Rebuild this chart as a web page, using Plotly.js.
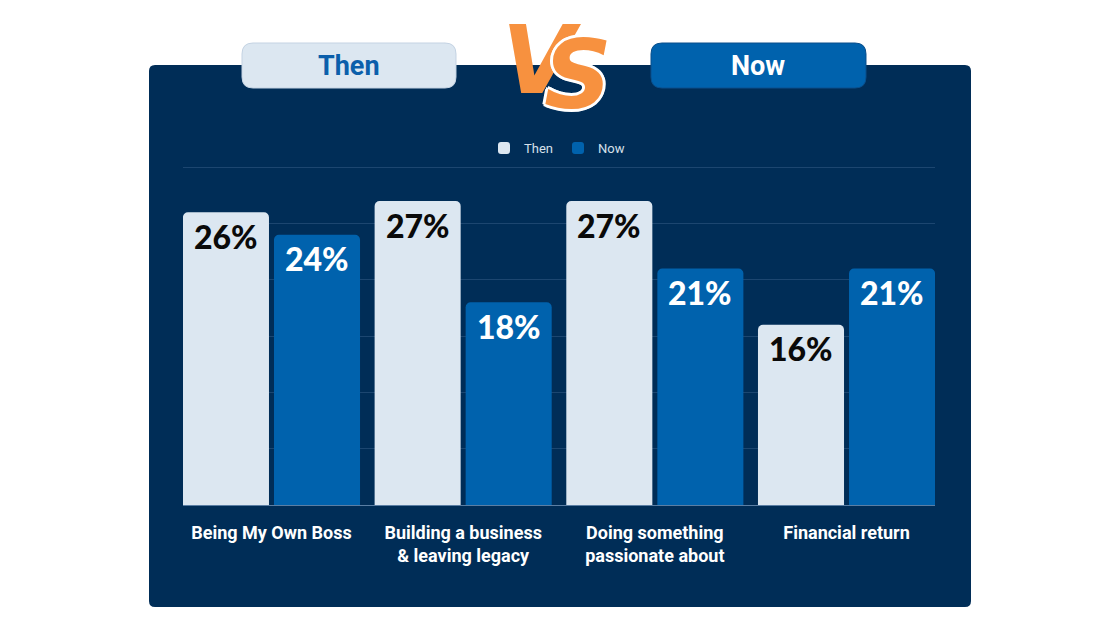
<!DOCTYPE html>
<html>
<head>
<meta charset="utf-8">
<script src="https://cdn.plot.ly/plotly-3.0.1.min.js"></script>
<style>html,body{margin:0;padding:0;background:#fff;}#chart{width:1120px;height:630px;}</style>
</head>
<body>
<div id="chart"></div>
<script>
// ---- data ----
const categories = ["Being My Own Boss", "Building a business<br>& leaving legacy", "Doing something<br>passionate about", "Financial return"];
const thenValues = [26, 27, 27, 16];
const nowValues = [24, 18, 21, 21];
const seriesNames = ["Then", "Now"];
const headerLabels = ["Then", "VS", "Now"];

// ---- styles ----
const NAVY = "#002D57";
const NOW_BLUE = "#0062AD";
const THEN_LIGHT = "#DCE7F1";
const ORANGE = "#F7913F";

const W = 1120, H = 630;
const M = {l: 183, r: 185, t: 156, b: 125};
const PW = W - M.l - M.r, PH = H - M.t - M.b;
const px = x => (x - M.l) / PW;
const py = y => (H - M.b - y) / PH;

function roundRect(x0, y0, x1, y1, r) {
  const X = v => px(v).toFixed(5), Y = v => py(v).toFixed(5);
  return `M${X(x0 + r)},${Y(y0)} L${X(x1 - r)},${Y(y0)} Q${X(x1)},${Y(y0)} ${X(x1)},${Y(y0 + r)} ` +
         `L${X(x1)},${Y(y1 - r)} Q${X(x1)},${Y(y1)} ${X(x1 - r)},${Y(y1)} ` +
         `L${X(x0 + r)},${Y(y1)} Q${X(x0)},${Y(y1)} ${X(x0)},${Y(y1 - r)} ` +
         `L${X(x0)},${Y(y0 + r)} Q${X(x0)},${Y(y0)} ${X(x0 + r)},${Y(y0)} Z`;
}

const barFont = {family: "Lato, sans-serif", size: 32, weight: 900};

const traces = [
  {type: "bar", name: seriesNames[0], x: categories, y: thenValues,
   marker: {color: THEN_LIGHT, cornerradius: 5}, hoverinfo: "none"},
  {type: "bar", name: seriesNames[1], x: categories, y: nowValues,
   marker: {color: NOW_BLUE, cornerradius: 5}, hoverinfo: "none"}
];

const annotations = [];
categories.forEach((c, i) => {
  annotations.push({x: c, y: thenValues[i], xref: "x", yref: "y", text: thenValues[i] + "%",
    showarrow: false, xshift: -45.5, yshift: -24, yanchor: "middle",
    font: Object.assign({}, barFont, {color: "#0a0a0a"})});
  annotations.push({x: c, y: nowValues[i], xref: "x", yref: "y", text: nowValues[i] + "%",
    showarrow: false, xshift: 45.5, yshift: -24, yanchor: "middle",
    font: Object.assign({}, barFont, {color: "#ffffff"})});
});

// header labels
annotations.push({xref: "paper", yref: "paper", x: px(349), y: py(66), text: headerLabels[0],
  showarrow: false, xanchor: "center", yanchor: "middle",
  font: {family: "Roboto, sans-serif", size: 27, weight: 700, color: "#0B5FAB"}});
annotations.push({xref: "paper", yref: "paper", x: px(758), y: py(66), text: headerLabels[2],
  showarrow: false, xanchor: "center", yanchor: "middle",
  font: {family: "Roboto, sans-serif", size: 27, weight: 700, color: "#ffffff"}});
// VS
annotations.push({xref: "paper", yref: "paper", x: px(541), y: py(60), text: headerLabels[1].charAt(0),
  showarrow: false, xanchor: "center", yanchor: "middle",
  font: {family: "DejaVu Sans, sans-serif", size: 94, weight: 700, style: "italic", color: ORANGE}});
annotations.push({xref: "paper", yref: "paper", x: px(578), y: py(75), text: headerLabels[1].charAt(1),
  showarrow: false, xanchor: "center", yanchor: "middle",
  font: {family: "DejaVu Sans, sans-serif", size: 94, weight: 700, style: "italic", color: ORANGE,
         shadow: "3px 0 #fff, -3px 0 #fff, 0 3px #fff, 0 -3px #fff, 2px 2px #fff, -2px -2px #fff, 2px -2px #fff, -2px 2px #fff"}});

const shapes = [
  {type: "path", xref: "paper", yref: "paper", path: roundRect(149, 65, 971, 607, 6),
   fillcolor: NAVY, line: {width: 0}, layer: "below"},
  {type: "path", xref: "paper", yref: "paper", path: roundRect(242, 43, 456, 88, 11),
   fillcolor: THEN_LIGHT, line: {width: 1, color: "#c4d3e3"}, layer: "above"},
  {type: "path", xref: "paper", yref: "paper", path: roundRect(651, 43, 866, 88, 11),
   fillcolor: NOW_BLUE, line: {width: 1, color: "#0a4f8c"}, layer: "above"}
];

const layout = {
  width: W, height: H,
  margin: M,
  paper_bgcolor: "#ffffff",
  plot_bgcolor: "rgba(0,0,0,0)",
  barmode: "group",
  bargap: 0.05,
  bargroupgap: 0.055,
  showlegend: true,
  legend: {orientation: "h", x: px(557), xanchor: "center", y: py(148), yanchor: "middle",
           font: {family: "Roboto, sans-serif", size: 13, color: "#d6e0ea"},
           bgcolor: "rgba(0,0,0,0)", itemclick: false, itemdoubleclick: false},
  xaxis: {type: "category", range: [-0.4616, 3.4616], showgrid: false, zeroline: false,
          showline: false, ticks: "", fixedrange: true,
          tickfont: {family: "Roboto, sans-serif", size: 18, weight: 700, color: "#ffffff"},
          ticklabelstandoff: 15},
  yaxis: {range: [0, 31], tickvals: [0, 5, 10, 15, 20, 25, 30], showticklabels: false, showgrid: true,
          gridcolor: "#1c4670", gridwidth: 1, zeroline: true, zerolinecolor: "#5a7ea4",
          zerolinewidth: 1, fixedrange: true},
  shapes: shapes,
  annotations: annotations,
  font: {family: "Roboto, sans-serif"}
};

Plotly.newPlot("chart", traces, layout, {displayModeBar: false, staticPlot: true});
</script>
</body>
</html>
